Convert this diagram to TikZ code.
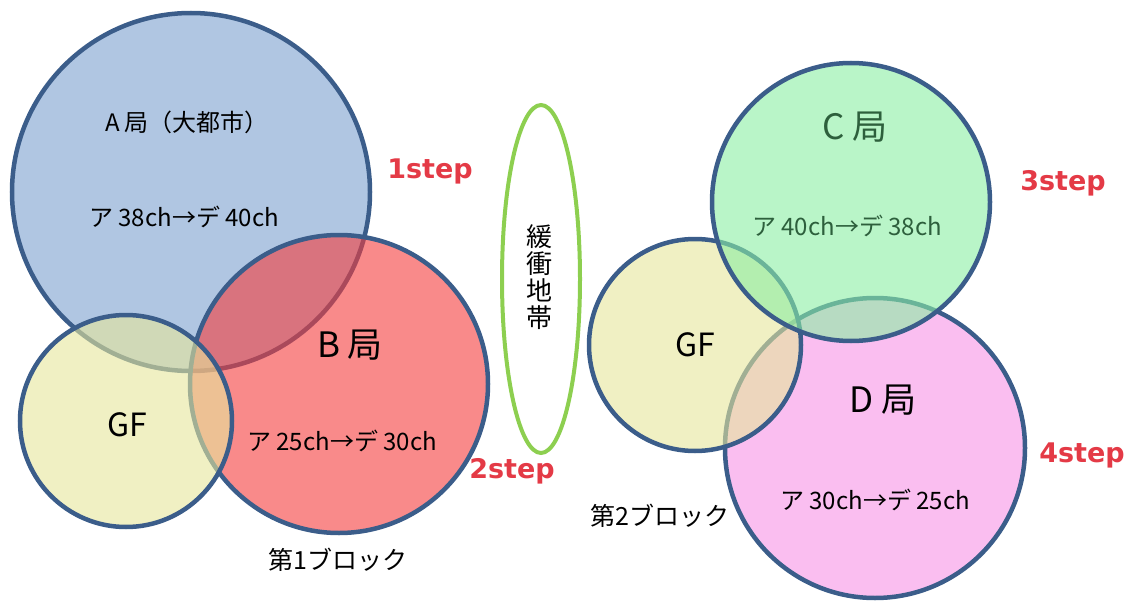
\documentclass[tikz,border=0pt]{standalone}
\usepackage{fontspec}
\usetikzlibrary{shapes.geometric}
\setmainfont{Noto Sans CJK JP}
\newfontfamily\stepfont{DejaVu Sans}
\definecolor{edge}{RGB}{59,93,138}
\definecolor{afill}{RGB}{123,160,207}
\definecolor{bfill}{RGB}{245,60,60}
\definecolor{gffill}{RGB}{230,230,155}
\definecolor{cfill}{RGB}{138,238,163}
\definecolor{dfill}{RGB}{247,147,230}
\definecolor{bufferline}{RGB}{141,207,80}
\definecolor{steptext}{RGB}{228,58,70}
\definecolor{ctext}{RGB}{45,95,60}
\tikzset{
  zone/.style={circle, draw=edge, line width=4.5pt, fill opacity=0.6, inner sep=0pt, minimum size=#1},
  lbl/.style={font=\fontsize{24}{27}\selectfont, inner sep=0pt},
  big/.style={font=\fontsize{35}{38}\selectfont, inner sep=0pt},
  gft/.style={font=\fontsize{32}{34}\selectfont, inner sep=0pt},
  steplbl/.style={font=\stepfont\bfseries\fontsize{27}{29}\selectfont, text=steptext, inner sep=0pt},
  blk/.style={font=\fontsize{25}{27}\selectfont, inner sep=0pt}
}
\begin{document}
\begin{tikzpicture}[x=1pt,y=-1pt]
\useasboundingbox (0,0) rectangle (1128,602);
% left block
\node[zone=358pt, fill=afill] (A) at (191,192) {};
\node[zone=298pt, fill=bfill] (B) at (339,384) {};
\node[zone=212pt, fill=gffill] (GF1) at (126,421) {};
% buffer zone
\node[ellipse, draw=bufferline, line width=4pt, minimum width=78pt, minimum height=348pt, inner sep=0pt] (buf) at (541,279) {};
% right block
\node[zone=300pt, fill=dfill] (D) at (875,448) {};
\node[zone=212pt, fill=gffill] (GF2) at (695,345) {};
\node[zone=278pt, fill=cfill] (C) at (851,202) {};
% texts
\node[lbl] (Aname) at (187,122) {A 局（大都市）};
\node[lbl] (Ach) at (184,217) {ア 38ch→デ 40ch};
\node[big] (Bname) at (350,345) {B 局};
\node[lbl] (Bch) at (342,441) {ア 25ch→デ 30ch};
\node[gft] (GF1t) at (127,425) {GF};
\node[align=center, inner sep=0pt, font=\fontsize{26}{27}\selectfont] (buft) at (539,277) {緩\\衝\\地\\帯};
\node[big, text=ctext] (Cname) at (855,127) {C 局};
\node[lbl, text=ctext] (Cch) at (847,226) {ア 40ch→デ 38ch};
\node[gft] (GF2t) at (695,345) {GF};
\node[big] (Dname) at (883,400) {D 局};
\node[lbl] (Dch) at (875,500) {ア 30ch→デ 25ch};
\node[steplbl] (s1) at (430,171) {1step};
\node[steplbl] (s2) at (512,471) {2step};
\node[steplbl] (s3) at (1063,183) {3step};
\node[steplbl] (s4) at (1082,455) {4step};
\node[blk] (blk1) at (338,560) {第1ブロック};
\node[blk] (blk2) at (660,516) {第2ブロック};
\end{tikzpicture}
\end{document}
